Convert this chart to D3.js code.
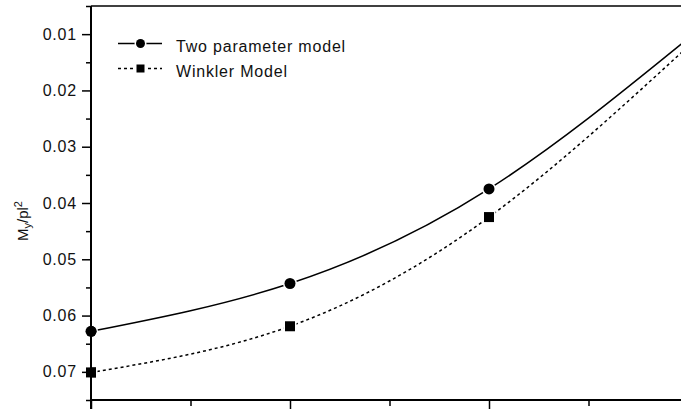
<!DOCTYPE html>
<html>
<head>
<meta charset="utf-8">
<script src="https://cdn.jsdelivr.net/npm/d3@7/dist/d3.min.js"></script>
<style>
  html, body { margin: 0; padding: 0; background: #fff; }
  svg { display: block; font-family: "Liberation Sans", Arial, sans-serif; }
</style>
</head>
<body>
<svg id="chart" width="681" height="410"></svg>
<script>
// Positions along the beam (the last one lies just past the right edge)
const positions = [1, 2, 3, 4];
// Normalised moment My/pl² for each foundation model
const twoParameter = [0.0628, 0.0543, 0.0375, 0.0108];
const winkler = [0.0701, 0.0619, 0.0425, 0.0122];
const seriesNames = ["Two parameter model", "Winkler Model"];
const yMajorTicks = [0.01, 0.02, 0.03, 0.04, 0.05, 0.06, 0.07];
const yMinorTicks = [0.005, 0.015, 0.025, 0.035, 0.045, 0.055, 0.065, 0.075];
const xMajorTicks = [1, 2, 3, 4];
const xMinorTicks = [1.5, 2.5, 3.5];

(function () {
const svg = d3.select("#chart");
const W = 681;
const plotLeft = 91, plotRight = 688, plotTop = 6, plotBottom = 400;

const x = d3.scaleLinear().domain([1, 4]).range([plotLeft, plotRight]);
const y = d3.scaleLinear().domain([0.005, 0.075]).range([plotTop, plotBottom]);

svg.append("defs").append("clipPath").attr("id", "plot")
  .append("rect").attr("x", plotLeft).attr("y", plotTop)
  .attr("width", W - plotLeft).attr("height", plotBottom - plotTop);

// Left axis: major ticks labelled, minor ticks plain
const yAxis = svg.append("g").attr("transform", `translate(${plotLeft},0)`)
  .call(d3.axisLeft(y).tickValues(yMajorTicks).tickSize(9).tickPadding(5).tickFormat(d3.format(".2f")));
yAxis.select(".domain").remove();
yAxis.selectAll("line").attr("stroke", "#000").attr("stroke-width", 1.5);
yAxis.selectAll("text").attr("font-size", 16).attr("letter-spacing", 0.8).attr("fill", "#111");
svg.append("g").attr("transform", `translate(${plotLeft},0)`)
  .call(d3.axisLeft(y).tickValues(yMinorTicks).tickSize(5).tickFormat(""))
  .call(g => g.select(".domain").remove())
  .selectAll("line").attr("stroke", "#000").attr("stroke-width", 1.5);

// Bottom axis ticks (no labels)
svg.append("g").attr("transform", `translate(0,${plotBottom})`)
  .call(d3.axisBottom(x).tickValues(xMajorTicks).tickSize(9).tickFormat(""))
  .call(g => g.select(".domain").remove())
  .selectAll("line").attr("stroke", "#000").attr("stroke-width", 1.5);
svg.append("g").attr("transform", `translate(0,${plotBottom})`)
  .call(d3.axisBottom(x).tickValues(xMinorTicks).tickSize(6).tickFormat(""))
  .call(g => g.select(".domain").remove())
  .selectAll("line").attr("stroke", "#000").attr("stroke-width", 1.5);

// Frame lines
svg.append("line").attr("x1", plotLeft).attr("x2", W).attr("y1", plotBottom).attr("y2", plotBottom)
  .attr("stroke", "#000").attr("stroke-width", 2);
svg.append("line").attr("x1", plotLeft).attr("x2", W).attr("y1", plotTop).attr("y2", plotTop)
  .attr("stroke", "#000").attr("stroke-width", 1.5);

// Curves
const series = [
  { name: seriesNames[0], values: twoParameter, dash: null, shape: "circle" },
  { name: seriesNames[1], values: winkler, dash: "3,3", shape: "square" }
];
const line = d3.line().x(d => x(d[0])).y(d => y(d[1])).curve(d3.curveNatural);
const plot = svg.append("g").attr("clip-path", "url(#plot)");

function marker(g, shape, cx, cy, size) {
  const r = size || 5.5;
  if (shape === "circle") {
    g.append("circle").attr("cx", cx).attr("cy", cy).attr("r", r)
      .attr("fill", "#000").attr("stroke", "#fff").attr("stroke-width", 3).attr("paint-order", "stroke");
  } else {
    const h = r - 0.5;
    g.append("rect").attr("x", cx - h).attr("y", cy - h).attr("width", 2 * h).attr("height", 2 * h)
      .attr("fill", "#000").attr("stroke", "#fff").attr("stroke-width", 3).attr("paint-order", "stroke");
  }
}

series.forEach(s => {
  const pts = positions.map((p, i) => [p, s.values[i]]);
  plot.append("path").attr("d", line(pts)).attr("fill", "none")
    .attr("stroke", "#000").attr("stroke-width", 1.5)
    .attr("stroke-dasharray", s.dash);
  pts.forEach(p => marker(plot, s.shape, x(p[0]), y(p[1])));
});

// Markers sitting on the left edge overlap the axis, so draw it after them
const edge = svg.append("g");
series.forEach(s => marker(edge, s.shape, x(positions[0]), y(s.values[0])));
svg.append("line").attr("x1", plotLeft).attr("x2", plotLeft).attr("y1", plotTop).attr("y2", plotBottom + 9)
  .attr("stroke", "#000").attr("stroke-width", 2);
edge.raise();
edge.selectAll("*").attr("stroke", "none");

// Legend
const legend = svg.append("g");
series.forEach((s, i) => {
  const ly = 43.5 + i * 25;
  legend.append("line").attr("x1", 118).attr("x2", 162).attr("y1", ly).attr("y2", ly)
    .attr("stroke", "#000").attr("stroke-width", 1.5).attr("stroke-dasharray", s.dash);
  marker(legend, s.shape, 140.5, ly, 4.5);
  legend.append("text").attr("x", 176).attr("y", ly + 8).attr("font-size", 16)
    .attr("letter-spacing", 0.8).attr("fill", "#111").text(s.name);
});

// Y axis title: M_y / p l²
const title = svg.append("text")
  .attr("transform", "translate(28,221) rotate(-90)")
  .attr("text-anchor", "middle").attr("font-size", 15).attr("fill", "#111");
title.append("tspan").text("M");
title.append("tspan").attr("font-size", 11).attr("dy", 3).text("y");
title.append("tspan").attr("dy", -3).text("/pl");
title.append("tspan").attr("font-size", 11).attr("dy", -6).text("2");
})();
</script>
</body>
</html>
